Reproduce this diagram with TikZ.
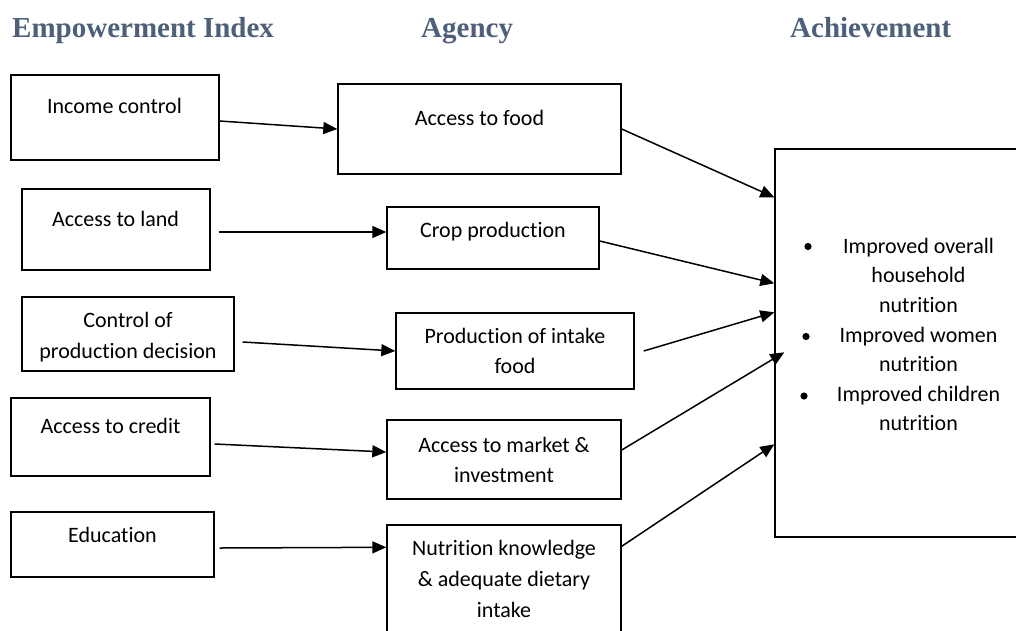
\documentclass[tikz,border=0pt]{standalone}
\usepackage{fontspec}
\setmainfont{Carlito}[RawFeature={-liga;-clig;-calt;-dlig}]
\newfontfamily\headfont{Liberation Serif}
\usetikzlibrary{arrows.meta,calc}
\definecolor{headblue}{RGB}{78,96,121}
\tikzset{
  box/.style={draw, rectangle, line width=1.4pt, inner sep=0pt},
  txt/.style={align=center, inner sep=0pt, anchor=north,
              font=\fontsize{22}{30}\selectfont},
  head/.style={anchor=base west, inner sep=0pt, text=headblue,
               font=\headfont\bfseries\fontsize{29}{34}\selectfont},
  arr/.style={line width=1.5pt, -{Triangle[length=14pt,width=12pt]}},
}
\begin{document}
\begin{tikzpicture}[x=1pt,y=-1pt]
\useasboundingbox (0,0) rectangle (1016,630);
\clip (0,0) rectangle (1016,630);

% column headings
\node[head] (h1) at (12,37)  {Empowerment Index};
\node[head] (h2) at (421,37) {Agency};
\node[head] (h3) at (790,37) {Achievement};

% empowerment index boxes
\node[box, minimum width=208pt, minimum height=85pt] (inc)  at (115,117.5) {};
\node[box, minimum width=188pt, minimum height=81pt] (land) at (116,229.5) {};
\node[box, minimum width=212pt, minimum height=74pt] (ctrl) at (128,334) {};
\node[box, minimum width=199pt, minimum height=78pt] (cred) at (110.5,437) {};
\node[box, minimum width=203pt, minimum height=65pt] (edu)  at (112.5,544.5) {};

\node[txt] (incT)  at (114.5,92)  {\strut Income control};
\node[txt] (landT) at (115.5,205) {\strut Access to land};
\node[txt, font=\fontsize{22}{31}\selectfont] (ctrlT) at (128,305.5) {\strut Control of\\production decision};
\node[txt] (credT) at (110.5,412) {\strut Access to credit};
\node[txt] (eduT)  at (112.5,521) {\strut Education};

% agency boxes
\node[box, minimum width=283pt, minimum height=90pt]  (food) at (479.5,129) {};
\node[box, minimum width=212pt, minimum height=62pt]  (crop) at (493,238) {};
\node[box, minimum width=238pt, minimum height=76pt]  (prod) at (515,351) {};
\node[box, minimum width=234pt, minimum height=79pt]  (mkt)  at (504,459.5) {};
\node[box, minimum width=234pt, minimum height=120pt] (nutr) at (504,585) {};

\node[txt] (foodT) at (479.5,104) {\strut Access to food};
\node[txt] (cropT) at (493,216)   {\strut Crop production};
\node[txt] (prodT) at (515,322)   {\strut Production of intake\\food};
\node[txt] (mktT)  at (504,431)   {\strut Access to market \&\\investment};
\node[txt, font=\fontsize{22}{31}\selectfont] (nutrT) at (504,533.5) {\strut Nutrition knowledge\\\& adequate dietary\\intake};

% achievement box
\node[box, minimum width=255pt, minimum height=388pt] (ach) at (902.5,343) {};
\node[txt, font=\fontsize{22}{29.6}\selectfont] (achT) at (918.5,232.3)
  {\strut Improved overall\\household\\nutrition\\Improved women\\nutrition\\Improved children\\nutrition};
\fill (808,246.5) circle (3.6);
\fill (806,336.5) circle (3.6);
\fill (804,396)   circle (3.6);

% index -> agency
\draw[arr] ($(inc.east)+(0,3.5)$)   -- (food.west);
\draw[arr] ($(land.east)+(8,2.5)$)  -- ($(crop.west)+(0,-6)$);
\draw[arr] ($(ctrl.east)+(8,8)$)    -- (prod.west);
\draw[arr] ($(cred.east)+(4,7)$)    -- ($(mkt.west)+(0,-7.5)$);
\draw[arr] ($(edu.east)+(5,3.5)$)   -- ($(nutr.north west)+(0,23)$);

% agency -> achievement
\draw[arr] (food.east)               -- ($(ach.north west)+(0,49)$);
\draw[arr] ($(crop.east)+(0,3)$)     -- ($(ach.north west)+(0,135)$);
\draw[arr] ($(prod.east)+(9,0)$)     -- ($(ach.north west)+(0,164)$);
\draw[arr] ($(mkt.east)+(0,-9.5)$)   -- ($(ach.north west)+(10,204)$);
\draw[arr] ($(nutr.north east)+(0,22)$) -- ($(ach.north west)+(0,296)$);
\end{tikzpicture}
\end{document}
